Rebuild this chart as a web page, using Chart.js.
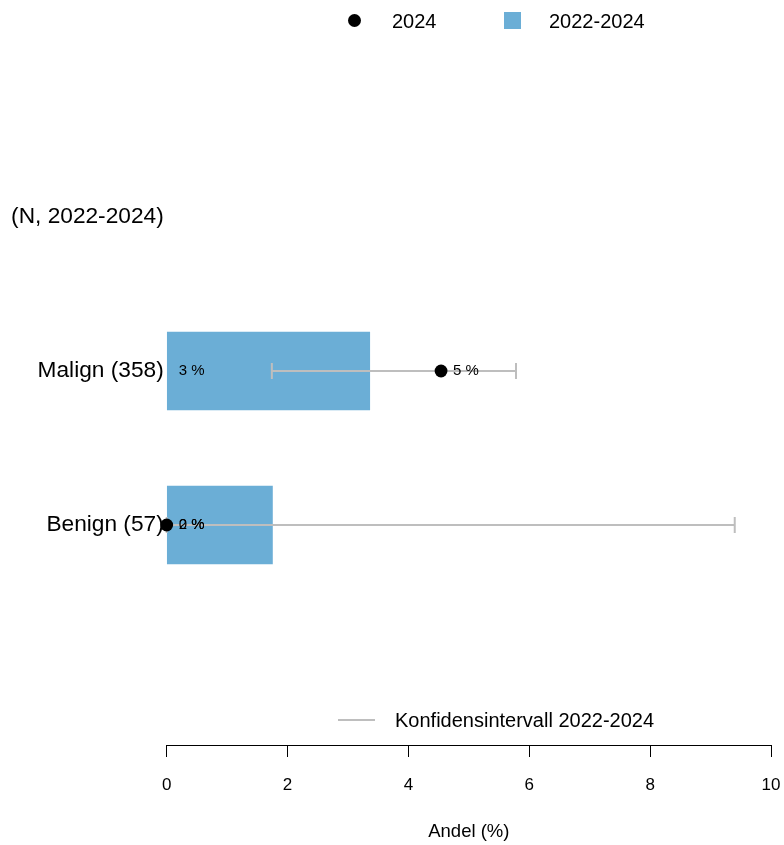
<!DOCTYPE html>
<html>
<head>
<meta charset="utf-8">
<script src="https://cdn.jsdelivr.net/npm/chart.js@4"></script>
<style>
  body { margin: 0; background: #fff; }
  #wrap { position: relative; width: 784px; height: 845px; font-family: "Liberation Sans", Arial, Helvetica, sans-serif; }
  #wrap canvas { position: absolute; left: 0; top: 0; }
  .leg { position: absolute; font-size: 20px; line-height: 24px; color: #000; white-space: nowrap; }
</style>
</head>
<body>
<div id="wrap">
  <canvas id="chart" width="784" height="845"></canvas>
  <div class="leg" style="left:348px;top:14px;width:13px;height:13px;border-radius:50%;background:#000"></div>
  <div class="leg" id="leg2024" style="left:392px;top:9px"></div>
  <div class="leg" style="left:504px;top:12px;width:17px;height:17px;background:#6BAED6"></div>
  <div class="leg" id="legAvg" style="left:549px;top:9px"></div>
  <div class="leg" style="left:338px;top:719px;width:37px;height:2px;background:#BEBEBE"></div>
  <div class="leg" id="legCi" style="left:395px;top:708px"></div>
</div>
<script>
// data
const headerLabel = "(N, 2022-2024)";
const categories = ["Malign (358)", "Benign (57)"];
const catPos = [1, 2]; // header sits at 0
const andel2024 = [4.54, 0];
const andel2022_2024 = [3.36, 1.75];
const ciLow = [1.74, 0];
const ciHigh = [5.78, 9.40];
const xTicks = [0, 2, 4, 6, 8, 10];

const label2024 = "2024";
const labelAvg = "2022-2024";
const labelCi = "Konfidensintervall 2022-2024";

const fontFam = '"Liberation Sans", Arial, Helvetica, sans-serif';
const blue = "#6BAED6";
const grey = "#BEBEBE";

document.getElementById("leg2024").textContent = label2024;
document.getElementById("legAvg").textContent = labelAvg;
document.getElementById("legCi").textContent = labelCi;

const yLabels = [headerLabel].concat(categories);

// datasets
const datasets = [];
datasets.push({
  type: "bar",
  label: labelAvg,
  data: categories.map((c, i) => ({ x: andel2022_2024[i], y: catPos[i] })),
  backgroundColor: blue,
  borderWidth: 0,
  barThickness: 78,
  order: 3,
});
categories.forEach((c, i) => {
  datasets.push({
    type: "line",
    label: labelCi,
    data: [{ x: ciLow[i], y: catPos[i] }, { x: ciHigh[i], y: catPos[i] }],
    borderColor: grey,
    borderWidth: 2,
    pointStyle: "line",
    pointRotation: 90,
    pointRadius: 8,
    pointBorderColor: grey,
    pointBorderWidth: 2,
    clip: false,
    order: 2,
  });
});
datasets.push({
  type: "line",
  label: label2024,
  data: categories.map((c, i) => ({ x: andel2024[i], y: catPos[i] })),
  showLine: false,
  pointStyle: "circle",
  pointRadius: 6.4,
  pointBackgroundColor: "#000",
  pointBorderWidth: 0,
  clip: false,
  order: 1,
});

// prosent-etiketter
const valueLabels = {
  id: "valueLabels",
  afterDatasetsDraw(chart) {
    const { ctx } = chart;
    const x = chart.scales.x, y = chart.scales.y;
    ctx.save();
    ctx.font = "15px " + fontFam;
    ctx.fillStyle = "#000";
    ctx.textAlign = "left";
    ctx.textBaseline = "middle";
    categories.forEach((c, i) => {
      const py = y.getPixelForValue(catPos[i]);
      ctx.fillText(Math.round(andel2022_2024[i]) + " %", x.getPixelForValue(0) + 12, py);
      ctx.fillText(Math.round(andel2024[i]) + " %", x.getPixelForValue(andel2024[i]) + 12, py);
    });
    ctx.restore();
  },
};

new Chart(document.getElementById("chart"), {
  type: "bar",
  data: { datasets: datasets },
  plugins: [valueLabels],
  options: {
    indexAxis: "y",
    responsive: false,
    animation: false,
    layout: { padding: { top: 140, right: 13, bottom: 0, left: 0 } },
    plugins: { legend: { display: false }, tooltip: { enabled: false } },
    scales: {
      x: {
        type: "linear",
        offset: false,
        min: xTicks[0],
        max: xTicks[xTicks.length - 1],
        afterBuildTicks: (s) => { s.ticks = xTicks.map(v => ({ value: v })); },
        afterFit: (s) => { s.height = 100; },
        grid: { drawOnChartArea: false, drawTicks: true, tickLength: 12, color: "#000", lineWidth: 1 },
        border: { display: true, color: "#000", width: 1 },
        ticks: { color: "#000", padding: 3, font: { family: fontFam, size: 17, lineHeight: "51px" } },
        title: { display: true, text: "Andel (%)", color: "#000", font: { family: fontFam, size: 18.5 }, padding: { top: 10, bottom: 2 } },
      },
      y: {
        type: "linear",
        offset: false,
        reverse: true,
        min: -0.5,
        max: 3.4286,
        afterBuildTicks: (s) => { s.ticks = yLabels.map((l, i) => ({ value: i })); },
        afterFit: (s) => { s.width = 166.7; },
        grid: { display: false, drawTicks: false },
        border: { display: false },
        ticks: {
          color: "#000",
          padding: 3,
          font: { family: fontFam, size: 22.7 },
          callback: (v) => yLabels[v],
        },
      },
    },
  },
});
</script>
</body>
</html>
